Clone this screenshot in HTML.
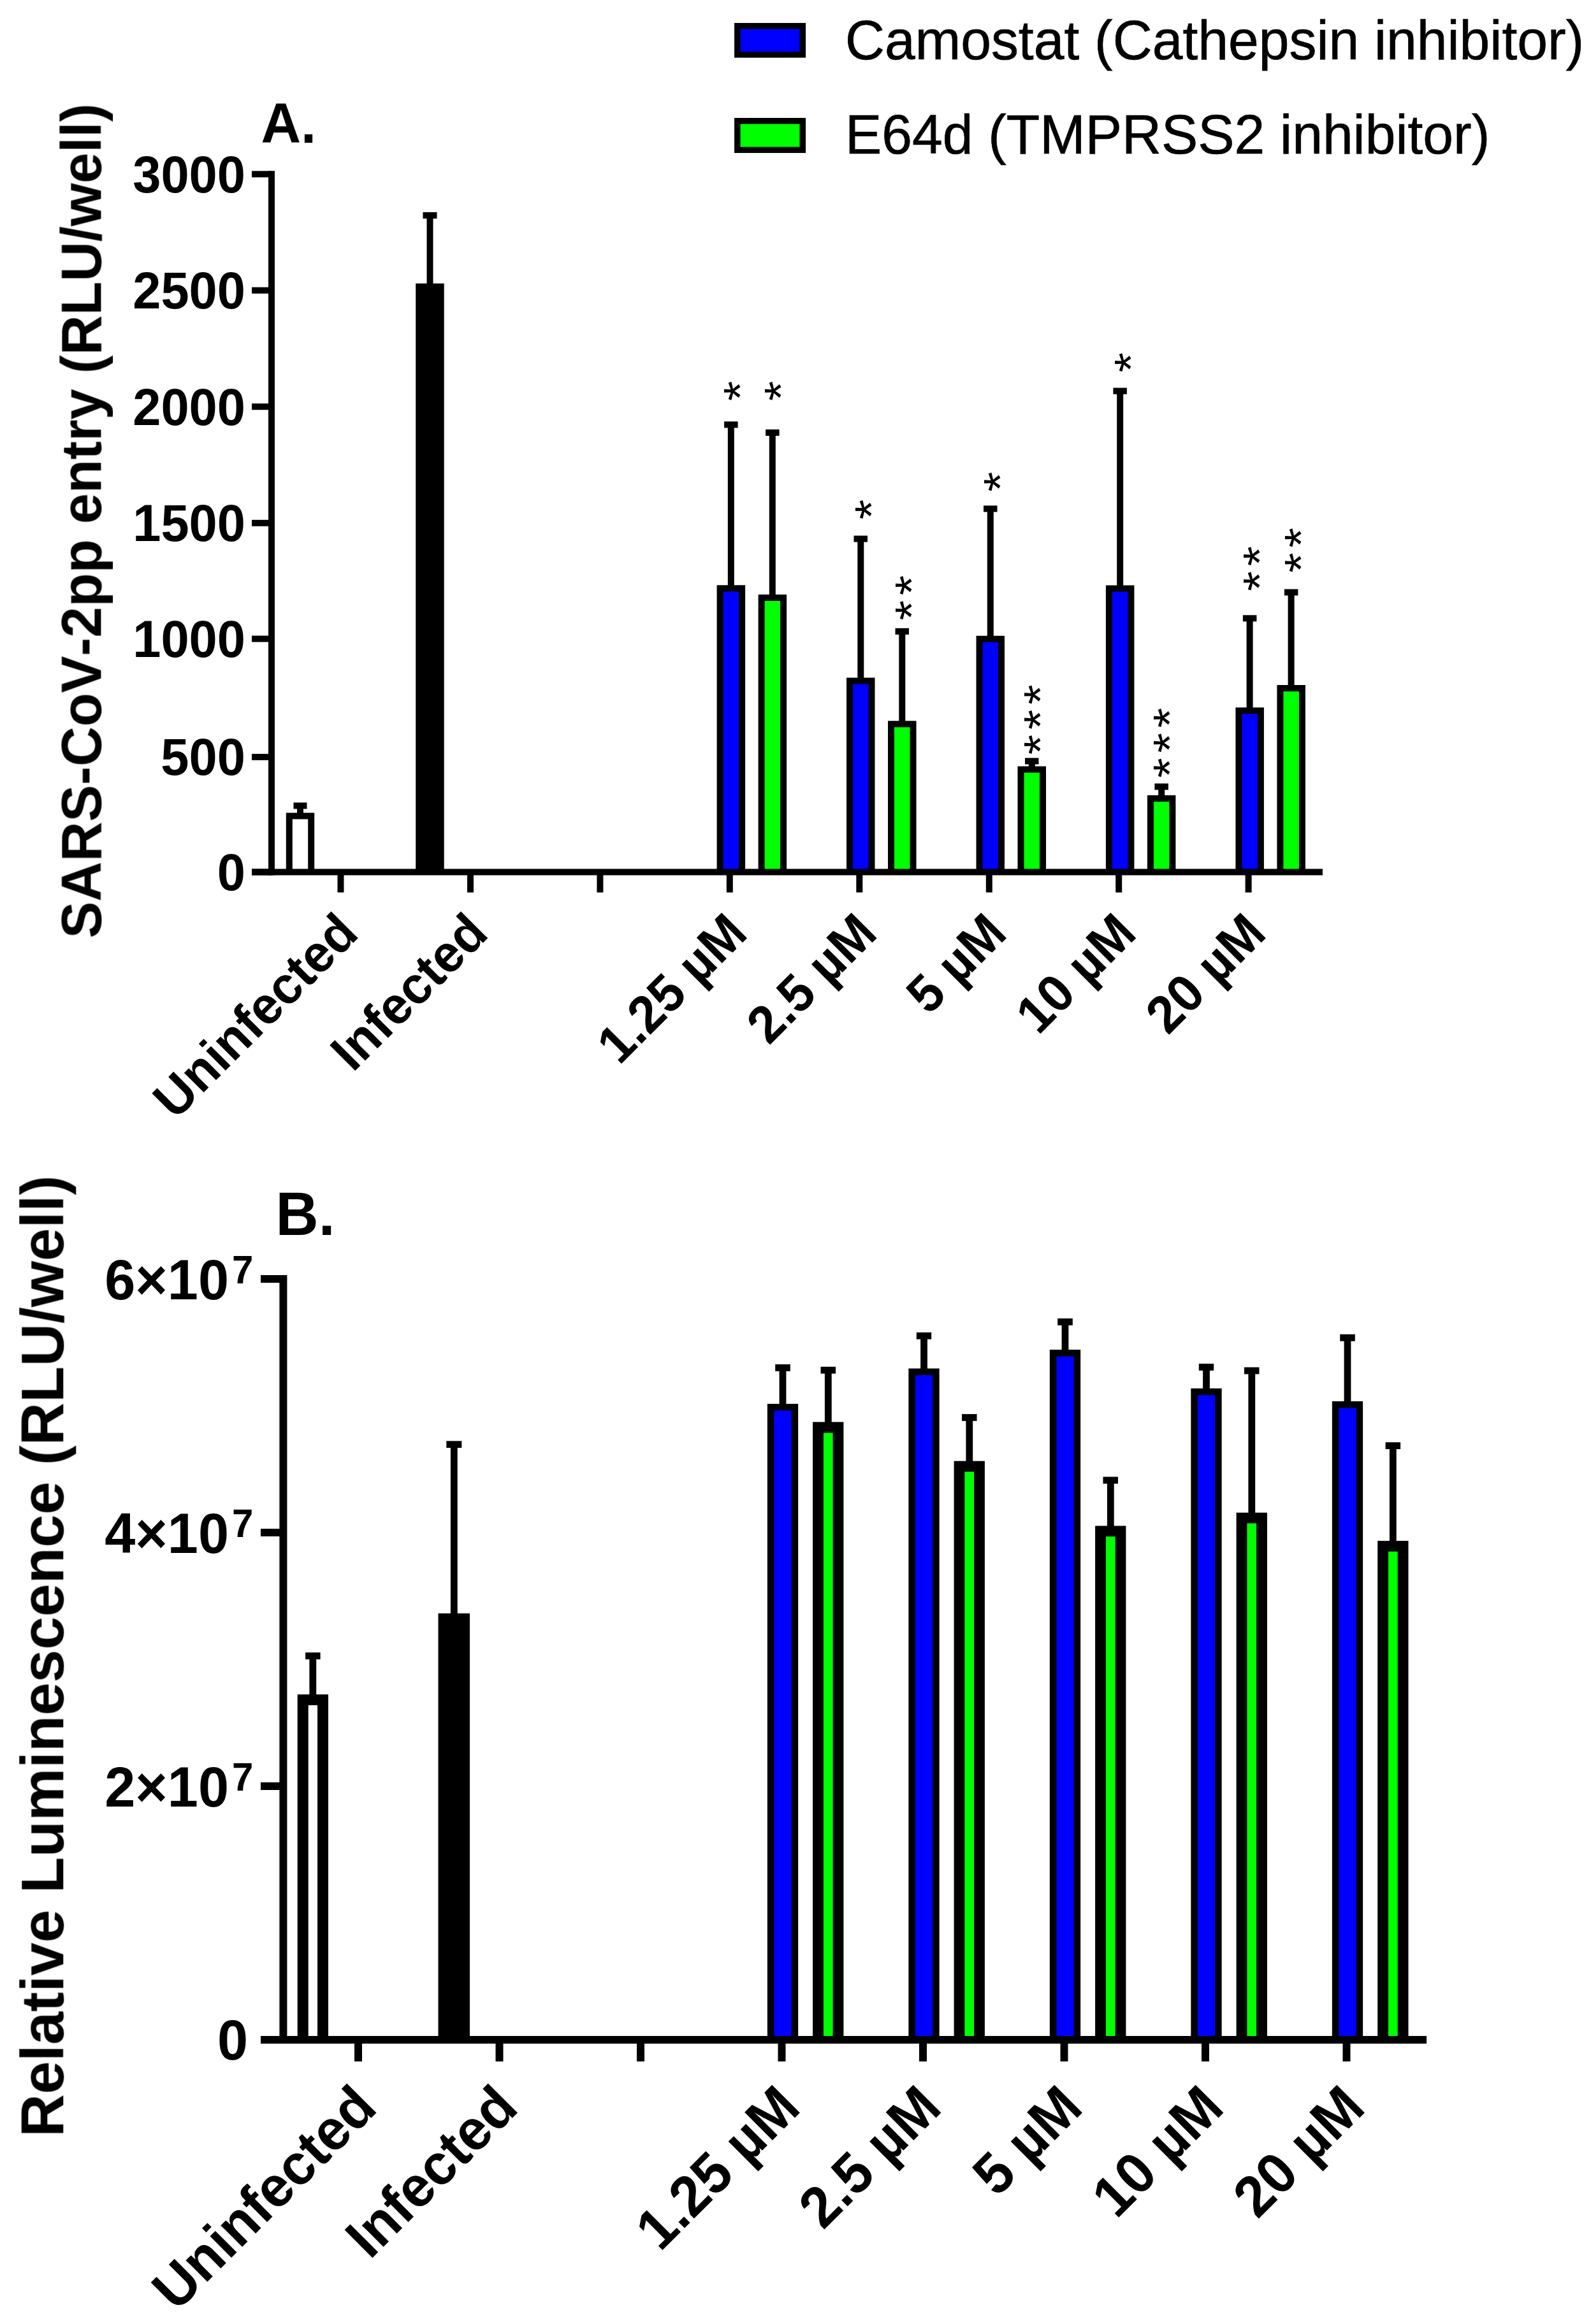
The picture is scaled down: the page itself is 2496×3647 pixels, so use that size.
<!DOCTYPE html>
<html lang="en"><head><meta charset="utf-8"><title>Figure</title>
<style>html,body{margin:0;padding:0;background:#fff}svg{display:block}text{font-kerning:none}</style></head>
<body>
<svg width="2496" height="3647" viewBox="0 0 2496 3647" font-family="'Liberation Sans', sans-serif" fill="#000">
<rect width="2496" height="3647" fill="#fff"/>
<defs><filter id="soft" filterUnits="userSpaceOnUse" x="0" y="0" width="2496" height="3647"><feGaussianBlur stdDeviation="0.7"/></filter></defs>
<g filter="url(#soft)">
<rect x="1156.8" y="40.8" width="102.5" height="45.0" fill="#00f" stroke="#000" stroke-width="9.5"/>
<rect x="1156.8" y="189.8" width="102.5" height="45.5" fill="#0f0" stroke="#000" stroke-width="9.5"/>
<text transform="translate(1326.0,92.5) scale(1,1.025)" font-size="85.85" font-weight="normal" text-anchor="start" stroke="#000" stroke-width="0.7">Camostat (Cathepsin inhibitor)</text>
<text transform="translate(1326.0,241.0) scale(1,1.025)" font-size="85.85" font-weight="normal" text-anchor="start" stroke="#000" stroke-width="0.7">E64d (TMPRSS2 inhibitor)</text>
<path d="M453.8,1368.5 V1280.5 H488.2 V1368.5" fill="#fff" stroke="#000" stroke-width="10"/>
<line x1="471.0" y1="1264.4" x2="471.0" y2="1276.5" stroke="#000" stroke-width="10"/>
<line x1="460.5" y1="1264.4" x2="481.5" y2="1264.4" stroke="#000" stroke-width="10"/>
<rect x="652.2" y="444.8" width="44.5" height="923.7" fill="#000"/>
<line x1="674.5" y1="338.0" x2="674.5" y2="445.8" stroke="#000" stroke-width="10"/>
<line x1="663.5" y1="338.0" x2="685.5" y2="338.0" stroke="#000" stroke-width="10"/>
<path d="M1129.6,1368.5 V923.2 H1164.1 V1368.5" fill="#00f" stroke="#000" stroke-width="10"/>
<line x1="1146.8" y1="666.4" x2="1146.8" y2="919.2" stroke="#000" stroke-width="10"/>
<line x1="1136.1" y1="666.4" x2="1157.6" y2="666.4" stroke="#000" stroke-width="10"/>
<path d="M1194.6,1368.5 V938.0 H1229.1 V1368.5" fill="#0f0" stroke="#000" stroke-width="10"/>
<line x1="1211.8" y1="678.9" x2="1211.8" y2="934.0" stroke="#000" stroke-width="10"/>
<line x1="1201.1" y1="678.9" x2="1222.6" y2="678.9" stroke="#000" stroke-width="10"/>
<path d="M1333.0,1368.5 V1068.4 H1367.5 V1368.5" fill="#00f" stroke="#000" stroke-width="10"/>
<line x1="1350.3" y1="845.6" x2="1350.3" y2="1064.4" stroke="#000" stroke-width="10"/>
<line x1="1339.5" y1="845.6" x2="1361.0" y2="845.6" stroke="#000" stroke-width="10"/>
<path d="M1398.0,1368.5 V1136.3 H1432.5 V1368.5" fill="#0f0" stroke="#000" stroke-width="10"/>
<line x1="1415.3" y1="990.8" x2="1415.3" y2="1132.3" stroke="#000" stroke-width="10"/>
<line x1="1404.5" y1="990.8" x2="1426.0" y2="990.8" stroke="#000" stroke-width="10"/>
<path d="M1536.5,1368.5 V1002.8 H1571.0 V1368.5" fill="#00f" stroke="#000" stroke-width="10"/>
<line x1="1553.8" y1="798.4" x2="1553.8" y2="998.8" stroke="#000" stroke-width="10"/>
<line x1="1543.0" y1="798.4" x2="1564.5" y2="798.4" stroke="#000" stroke-width="10"/>
<path d="M1601.5,1368.5 V1207.6 H1636.0 V1368.5" fill="#0f0" stroke="#000" stroke-width="10"/>
<line x1="1618.8" y1="1194.4" x2="1618.8" y2="1203.6" stroke="#000" stroke-width="10"/>
<line x1="1608.0" y1="1194.4" x2="1629.5" y2="1194.4" stroke="#000" stroke-width="10"/>
<path d="M1739.9,1368.5 V923.6 H1774.4 V1368.5" fill="#00f" stroke="#000" stroke-width="10"/>
<line x1="1757.2" y1="613.6" x2="1757.2" y2="919.6" stroke="#000" stroke-width="10"/>
<line x1="1746.4" y1="613.6" x2="1767.9" y2="613.6" stroke="#000" stroke-width="10"/>
<path d="M1804.9,1368.5 V1253.0 H1839.4 V1368.5" fill="#0f0" stroke="#000" stroke-width="10"/>
<line x1="1822.2" y1="1234.5" x2="1822.2" y2="1249.0" stroke="#000" stroke-width="10"/>
<line x1="1811.4" y1="1234.5" x2="1832.9" y2="1234.5" stroke="#000" stroke-width="10"/>
<path d="M1943.4,1368.5 V1115.2 H1977.9 V1368.5" fill="#00f" stroke="#000" stroke-width="10"/>
<line x1="1960.6" y1="970.3" x2="1960.6" y2="1111.2" stroke="#000" stroke-width="10"/>
<line x1="1949.9" y1="970.3" x2="1971.4" y2="970.3" stroke="#000" stroke-width="10"/>
<path d="M2008.4,1368.5 V1080.0 H2042.9 V1368.5" fill="#0f0" stroke="#000" stroke-width="10"/>
<line x1="2025.6" y1="929.5" x2="2025.6" y2="1076.0" stroke="#000" stroke-width="10"/>
<line x1="2014.9" y1="929.5" x2="2036.4" y2="929.5" stroke="#000" stroke-width="10"/>
<line x1="426.0" y1="268.3" x2="426.0" y2="1373.5" stroke="#000" stroke-width="10"/>
<line x1="395.0" y1="1368.5" x2="2075.0" y2="1368.5" stroke="#000" stroke-width="10"/>
<line x1="395.0" y1="273.3" x2="426.0" y2="273.3" stroke="#000" stroke-width="10"/>
<line x1="395.0" y1="455.7" x2="426.0" y2="455.7" stroke="#000" stroke-width="10"/>
<line x1="395.0" y1="638.2" x2="426.0" y2="638.2" stroke="#000" stroke-width="10"/>
<line x1="395.0" y1="820.8" x2="426.0" y2="820.8" stroke="#000" stroke-width="10"/>
<line x1="395.0" y1="1002.5" x2="426.0" y2="1002.5" stroke="#000" stroke-width="10"/>
<line x1="395.0" y1="1188.0" x2="426.0" y2="1188.0" stroke="#000" stroke-width="10"/>
<line x1="395.0" y1="1368.5" x2="426.0" y2="1368.5" stroke="#000" stroke-width="10"/>
<line x1="534.5" y1="1368.5" x2="534.5" y2="1400.5" stroke="#000" stroke-width="10"/>
<line x1="738.0" y1="1368.5" x2="738.0" y2="1400.5" stroke="#000" stroke-width="10"/>
<line x1="941.4" y1="1368.5" x2="941.4" y2="1400.5" stroke="#000" stroke-width="10"/>
<line x1="1144.8" y1="1368.5" x2="1144.8" y2="1400.5" stroke="#000" stroke-width="10"/>
<line x1="1348.3" y1="1368.5" x2="1348.3" y2="1400.5" stroke="#000" stroke-width="10"/>
<line x1="1551.8" y1="1368.5" x2="1551.8" y2="1400.5" stroke="#000" stroke-width="10"/>
<line x1="1755.2" y1="1368.5" x2="1755.2" y2="1400.5" stroke="#000" stroke-width="10"/>
<line x1="1958.6" y1="1368.5" x2="1958.6" y2="1400.5" stroke="#000" stroke-width="10"/>
<text transform="translate(385.0,301.6) scale(1,1.035)" font-size="79.5" font-weight="bold" text-anchor="end" >3000</text>
<text transform="translate(385.0,484.0) scale(1,1.035)" font-size="79.5" font-weight="bold" text-anchor="end" >2500</text>
<text transform="translate(385.0,666.5) scale(1,1.035)" font-size="79.5" font-weight="bold" text-anchor="end" >2000</text>
<text transform="translate(385.0,849.1) scale(1,1.035)" font-size="79.5" font-weight="bold" text-anchor="end" >1500</text>
<text transform="translate(385.0,1030.8) scale(1,1.035)" font-size="79.5" font-weight="bold" text-anchor="end" >1000</text>
<text transform="translate(385.0,1216.3) scale(1,1.035)" font-size="79.5" font-weight="bold" text-anchor="end" >500</text>
<text transform="translate(385.0,1396.8) scale(1,1.035)" font-size="79.5" font-weight="bold" text-anchor="end" >0</text>
<text transform="translate(565.5,1468.5) rotate(-45) scale(1,1.035)" font-size="79.5" font-weight="bold" text-anchor="end" >Uninfected</text>
<text transform="translate(769.0,1468.5) rotate(-45) scale(1,1.035)" font-size="79.5" font-weight="bold" text-anchor="end" >Infected</text>
<text transform="translate(1175.8,1468.5) rotate(-45) scale(1,1.035)" font-size="79.5" font-weight="bold" text-anchor="end" >1.25 µM</text>
<text transform="translate(1379.3,1468.5) rotate(-45) scale(1,1.035)" font-size="79.5" font-weight="bold" text-anchor="end" >2.5 µM</text>
<text transform="translate(1582.8,1468.5) rotate(-45) scale(1,1.035)" font-size="79.5" font-weight="bold" text-anchor="end" >5 µM</text>
<text transform="translate(1786.2,1468.5) rotate(-45) scale(1,1.035)" font-size="79.5" font-weight="bold" text-anchor="end" >10 µM</text>
<text transform="translate(1989.6,1468.5) rotate(-45) scale(1,1.035)" font-size="79.5" font-weight="bold" text-anchor="end" >20 µM</text>
<text transform="translate(158.0,1472.5) rotate(-90) scale(1,1.02)" font-size="86.7" font-weight="bold" text-anchor="start" >SARS-CoV-2pp entry (RLU/well)</text>
<text transform="translate(409.5,224.0) scale(1,1.035)" font-size="86.7" font-weight="bold" text-anchor="start" >A.</text>
<path d="M475.2,3201.0 V2667.5 H506.5 V3201.0" fill="#fff" stroke="#000" stroke-width="17"/>
<line x1="490.8" y1="2598.6" x2="490.8" y2="2660.0" stroke="#000" stroke-width="10.8"/>
<line x1="479.1" y1="2598.6" x2="502.6" y2="2598.6" stroke="#000" stroke-width="10.8"/>
<rect x="687.5" y="2531.8" width="49.5" height="669.2" fill="#000"/>
<line x1="712.3" y1="2266.7" x2="712.3" y2="2532.8" stroke="#000" stroke-width="10.8"/>
<line x1="700.3" y1="2266.7" x2="724.3" y2="2266.7" stroke="#000" stroke-width="10.8"/>
<path d="M1209.1,3201.0 V2208.2 H1246.9 V3201.0" fill="#00f" stroke="#000" stroke-width="10.5"/>
<line x1="1228.0" y1="2146.4" x2="1228.0" y2="2203.9" stroke="#000" stroke-width="10.8"/>
<line x1="1216.2" y1="2146.4" x2="1239.8" y2="2146.4" stroke="#000" stroke-width="10.8"/>
<path d="M1283.5,3201.0 V2240.0 H1315.0 V3201.0" fill="#0f0" stroke="#000" stroke-width="16.8"/>
<line x1="1299.3" y1="2150.2" x2="1299.3" y2="2232.6" stroke="#000" stroke-width="10.8"/>
<line x1="1287.5" y1="2150.2" x2="1311.0" y2="2150.2" stroke="#000" stroke-width="10.8"/>
<path d="M1430.6,3201.0 V2152.8 H1468.4 V3201.0" fill="#00f" stroke="#000" stroke-width="10.5"/>
<line x1="1449.5" y1="2096.3" x2="1449.5" y2="2148.5" stroke="#000" stroke-width="10.8"/>
<line x1="1437.8" y1="2096.3" x2="1461.2" y2="2096.3" stroke="#000" stroke-width="10.8"/>
<path d="M1505.0,3201.0 V2301.1 H1536.5 V3201.0" fill="#0f0" stroke="#000" stroke-width="16.8"/>
<line x1="1520.8" y1="2224.5" x2="1520.8" y2="2293.7" stroke="#000" stroke-width="10.8"/>
<line x1="1509.0" y1="2224.5" x2="1532.5" y2="2224.5" stroke="#000" stroke-width="10.8"/>
<path d="M1652.1,3201.0 V2123.3 H1689.9 V3201.0" fill="#00f" stroke="#000" stroke-width="10.5"/>
<line x1="1671.0" y1="2074.4" x2="1671.0" y2="2119.1" stroke="#000" stroke-width="10.8"/>
<line x1="1659.2" y1="2074.4" x2="1682.8" y2="2074.4" stroke="#000" stroke-width="10.8"/>
<path d="M1726.5,3201.0 V2402.9 H1758.0 V3201.0" fill="#0f0" stroke="#000" stroke-width="16.8"/>
<line x1="1742.3" y1="2322.9" x2="1742.3" y2="2395.5" stroke="#000" stroke-width="10.8"/>
<line x1="1730.5" y1="2322.9" x2="1754.0" y2="2322.9" stroke="#000" stroke-width="10.8"/>
<path d="M1873.6,3201.0 V2184.1 H1911.4 V3201.0" fill="#00f" stroke="#000" stroke-width="10.5"/>
<line x1="1892.5" y1="2145.4" x2="1892.5" y2="2179.8" stroke="#000" stroke-width="10.8"/>
<line x1="1880.8" y1="2145.4" x2="1904.2" y2="2145.4" stroke="#000" stroke-width="10.8"/>
<path d="M1948.0,3201.0 V2382.1 H1979.5 V3201.0" fill="#0f0" stroke="#000" stroke-width="16.8"/>
<line x1="1963.8" y1="2151.0" x2="1963.8" y2="2374.7" stroke="#000" stroke-width="10.8"/>
<line x1="1952.0" y1="2151.0" x2="1975.5" y2="2151.0" stroke="#000" stroke-width="10.8"/>
<path d="M2095.1,3201.0 V2204.3 H2132.9 V3201.0" fill="#00f" stroke="#000" stroke-width="10.5"/>
<line x1="2114.0" y1="2099.3" x2="2114.0" y2="2200.1" stroke="#000" stroke-width="10.8"/>
<line x1="2102.2" y1="2099.3" x2="2125.8" y2="2099.3" stroke="#000" stroke-width="10.8"/>
<path d="M2169.6,3201.0 V2426.3 H2201.1 V3201.0" fill="#0f0" stroke="#000" stroke-width="16.8"/>
<line x1="2185.3" y1="2268.7" x2="2185.3" y2="2418.9" stroke="#000" stroke-width="10.8"/>
<line x1="2173.6" y1="2268.7" x2="2197.1" y2="2268.7" stroke="#000" stroke-width="10.8"/>
<line x1="444.4" y1="2001.0" x2="444.4" y2="3207.0" stroke="#000" stroke-width="12"/>
<line x1="409.0" y1="3201.0" x2="2238.0" y2="3201.0" stroke="#000" stroke-width="12"/>
<line x1="409.0" y1="2007.0" x2="444.4" y2="2007.0" stroke="#000" stroke-width="12"/>
<line x1="409.0" y1="2405.0" x2="444.4" y2="2405.0" stroke="#000" stroke-width="12"/>
<line x1="409.0" y1="2803.0" x2="444.4" y2="2803.0" stroke="#000" stroke-width="12"/>
<line x1="409.0" y1="3201.0" x2="444.4" y2="3201.0" stroke="#000" stroke-width="12"/>
<line x1="562.0" y1="3201.0" x2="562.0" y2="3235.0" stroke="#000" stroke-width="12"/>
<line x1="783.5" y1="3201.0" x2="783.5" y2="3235.0" stroke="#000" stroke-width="12"/>
<line x1="1005.0" y1="3201.0" x2="1005.0" y2="3235.0" stroke="#000" stroke-width="12"/>
<line x1="1226.5" y1="3201.0" x2="1226.5" y2="3235.0" stroke="#000" stroke-width="12"/>
<line x1="1448.0" y1="3201.0" x2="1448.0" y2="3235.0" stroke="#000" stroke-width="12"/>
<line x1="1669.5" y1="3201.0" x2="1669.5" y2="3235.0" stroke="#000" stroke-width="12"/>
<line x1="1891.0" y1="3201.0" x2="1891.0" y2="3235.0" stroke="#000" stroke-width="12"/>
<line x1="2112.5" y1="3201.0" x2="2112.5" y2="3235.0" stroke="#000" stroke-width="12"/>
<text transform="translate(359.0,2038.8) scale(1,1.035)" font-size="86.5" font-weight="bold" text-anchor="end" >6×10</text>
<text transform="translate(364.0,2013.8) scale(1,1.035)" font-size="60" font-weight="bold" text-anchor="start" >7</text>
<text transform="translate(359.0,2436.8) scale(1,1.035)" font-size="86.5" font-weight="bold" text-anchor="end" >4×10</text>
<text transform="translate(364.0,2411.8) scale(1,1.035)" font-size="60" font-weight="bold" text-anchor="start" >7</text>
<text transform="translate(359.0,2834.8) scale(1,1.035)" font-size="86.5" font-weight="bold" text-anchor="end" >2×10</text>
<text transform="translate(364.0,2809.8) scale(1,1.035)" font-size="60" font-weight="bold" text-anchor="start" >7</text>
<text transform="translate(389.0,3231.8) scale(1,1.035)" font-size="86.5" font-weight="bold" text-anchor="end" >0</text>
<text transform="translate(594.5,3311.5) rotate(-45) scale(1,1.035)" font-size="87" font-weight="bold" text-anchor="end" >Uninfected</text>
<text transform="translate(816.0,3311.5) rotate(-45) scale(1,1.035)" font-size="87" font-weight="bold" text-anchor="end" >Infected</text>
<text transform="translate(1259.0,3311.5) rotate(-45) scale(1,1.035)" font-size="87" font-weight="bold" text-anchor="end" >1.25 µM</text>
<text transform="translate(1480.5,3311.5) rotate(-45) scale(1,1.035)" font-size="87" font-weight="bold" text-anchor="end" >2.5 µM</text>
<text transform="translate(1702.0,3311.5) rotate(-45) scale(1,1.035)" font-size="87" font-weight="bold" text-anchor="end" >5 µM</text>
<text transform="translate(1923.5,3311.5) rotate(-45) scale(1,1.035)" font-size="87" font-weight="bold" text-anchor="end" >10 µM</text>
<text transform="translate(2145.0,3311.5) rotate(-45) scale(1,1.035)" font-size="87" font-weight="bold" text-anchor="end" >20 µM</text>
<text transform="translate(99.0,3353.5) rotate(-90) scale(1,1.02)" font-size="93" font-weight="bold" text-anchor="start" >Relative Luminescence (RLU/well)</text>
<text transform="translate(432.5,1938.0) scale(1,1.035)" font-size="93" font-weight="bold" text-anchor="start" >B.</text>
<text transform="translate(1186.1,629.3) rotate(-90) scale(1.07,0.96)" font-size="75.5" letter-spacing="7.36">*</text>
<text transform="translate(1249.8,629.3) rotate(-90) scale(1.07,0.96)" font-size="75.5" letter-spacing="7.36">*</text>
<text transform="translate(1392.4,815.3) rotate(-90) scale(1.07,0.96)" font-size="75.5" letter-spacing="7.36">*</text>
<text transform="translate(1454.6,973.6) rotate(-90) scale(1.07,0.96)" font-size="75.5" letter-spacing="7.36">**</text>
<text transform="translate(1594.1,771.8) rotate(-90) scale(1.07,0.96)" font-size="75.5" letter-spacing="7.36">*</text>
<text transform="translate(1657.4,1184.3) rotate(-90) scale(1.07,0.96)" font-size="75.5" letter-spacing="7.36">***</text>
<text transform="translate(1798.9,584.4) rotate(-90) scale(1.07,0.96)" font-size="75.5" letter-spacing="7.36">*</text>
<text transform="translate(1860.1,1220.8) rotate(-90) scale(1.07,0.96)" font-size="75.5" letter-spacing="7.36">***</text>
<text transform="translate(2001.1,927.8) rotate(-90) scale(1.07,0.96)" font-size="75.5" letter-spacing="7.36">**</text>
<text transform="translate(2065.6,898.8) rotate(-90) scale(1.07,0.96)" font-size="75.5" letter-spacing="7.36">**</text>
</g>
</svg>
</body></html>
